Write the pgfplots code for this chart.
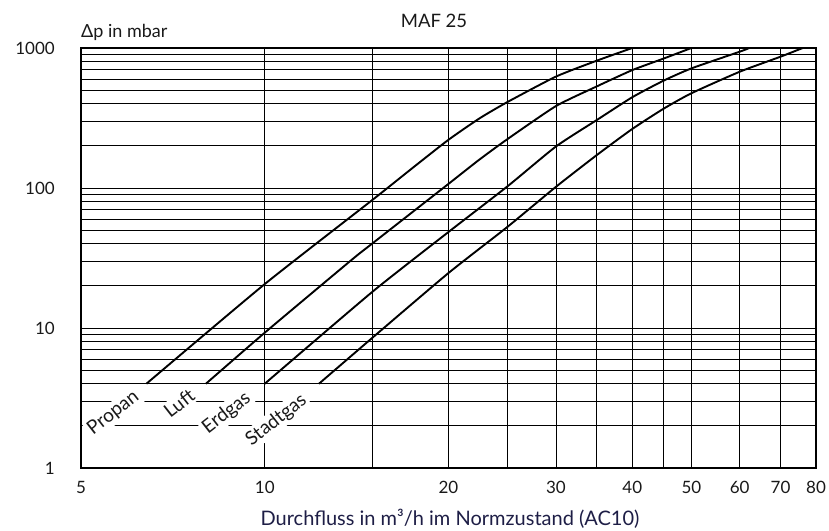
\documentclass[border=0pt]{standalone}
\usepackage{fontspec}
\setmainfont{Lato}
\usepackage{pgfplots}
\pgfplotsset{compat=1.18}
\definecolor{navy}{RGB}{30,30,70}
\definecolor{txt}{RGB}{25,25,25}
\begin{document}
\begin{tikzpicture}[x=1pt,y=1pt]
\begin{axis}[
  at={(0,0)}, anchor=south west,
  scale only axis,
  width=735pt, height=420pt,
  xmode=log, ymode=log,
  xmin=5, xmax=80, ymin=1, ymax=1000,
  enlargelimits=false,
  xtick={5,10,15,20,25,30,35,40,45,50,60,70,80},
  xticklabels={5,10,,20,,30,,40,,50,60,70,80},
  ytick={1,10,100,1000},
  yticklabels={1,10,100,1000},
  minor ytick={2,3,4,5,6,7,8,9,20,30,40,50,60,70,80,90,200,300,400,500,600,700,800,900},
  grid=both,
  major grid style={black, line width=0.8pt},
  minor grid style={black, line width=0.8pt},
  tick style={draw=none},
  axis line style={black, line width=1.2pt},
  xticklabel style={font=\fontsize{17}{17}\selectfont, text=txt, anchor=base, yshift=-25pt},
  yticklabel style={font=\fontsize{17}{17}\selectfont, text=txt, anchor=east, inner sep=0pt, xshift=-26pt},
  curve/.style={black, line width=1.9pt, no markers, smooth, tension=0.35},
]
% Propan
\addplot[curve] coordinates {(6.40,4) (10,20.6) (15,82) (17.5,140) (20,221) (22.5,315) (25,412) (30,625) (35,812) (40,1000)};
% Luft
\addplot[curve] coordinates {(8.01,4) (10,9.26) (13.87,30.6) (15,40.1) (20,107) (22.49,160) (25,224) (30,385) (35,532) (40,695) (45,840) (50,1000)};
% Erdgas
\addplot[curve] coordinates {(10,4) (15,18.1) (20,48.5) (25,103) (30,198) (35,306) (40,445) (45,584) (50,715) (60,941) (62.2,1000)};
% Stadtgas
\addplot[curve] coordinates {(12.27,4) (15,8.5) (20,24.7) (25,52.9) (30,102) (35,172) (40,264) (45,368) (50,475) (60,677) (70,867) (76.1,1000)};
\begin{scope}[every node/.style={font=\fontsize{19}{19}\selectfont, text=txt, fill=white, inner sep=2pt, rotate=38}]
\node at (axis cs:5.65,2.46) {Propan};
\node at (axis cs:7.24,2.90) {Luft};
\node at (axis cs:8.66,2.46) {Erdgas};
\node at (axis cs:10.45,2.20) {Stadtgas};
\end{scope}
\end{axis}
\node[font=\fontsize{18.5}{18.5}\selectfont, text=txt] at (353,447) {MAF 25};
\node[font=\fontsize{18}{18}\selectfont, text=txt, anchor=base west, inner sep=0pt] at (0,430.3) {Δp in mbar};
\node[font=\fontsize{20}{20}\selectfont, text=navy, anchor=base, inner sep=0pt] at (369,-57.7) {Durchfluss in m³/h im Normzustand (AC10)};
\pgfresetboundingbox
\path[use as bounding box] (-81,-62) rectangle (748,468);
\end{tikzpicture}
\end{document}
